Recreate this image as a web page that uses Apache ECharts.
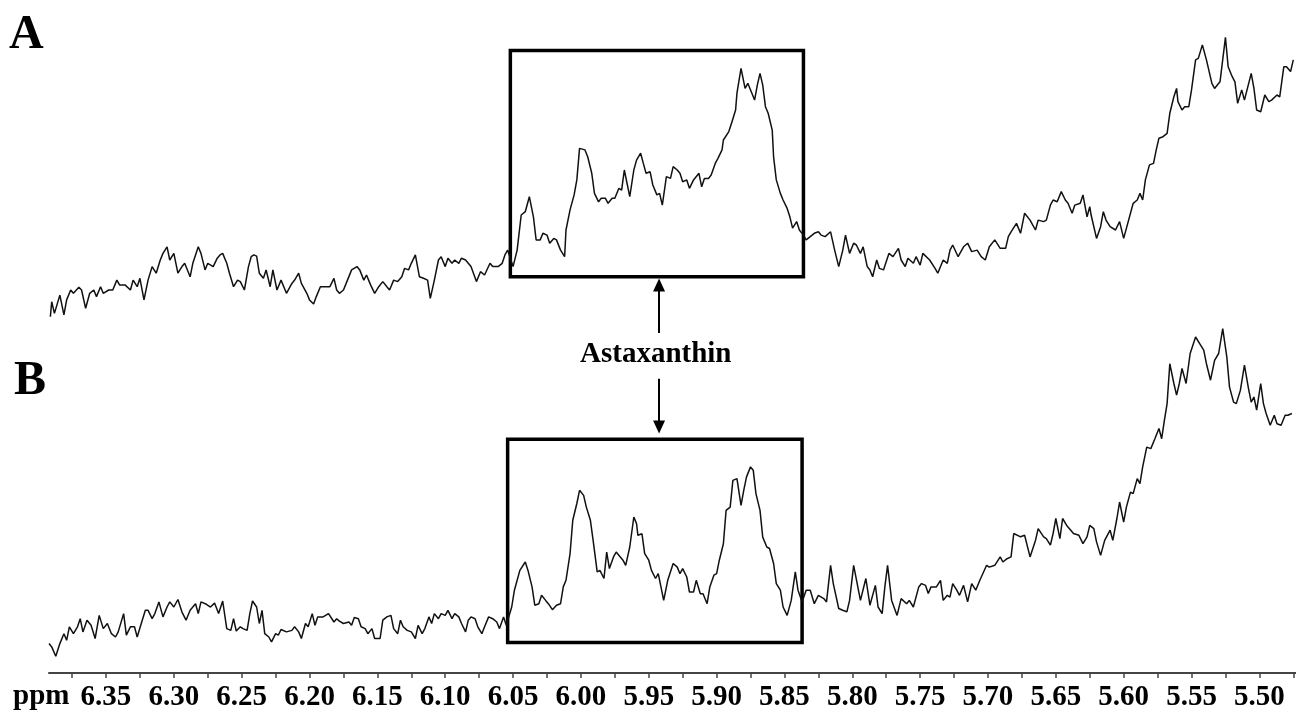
<!DOCTYPE html>
<html>
<head>
<meta charset="utf-8">
<script src="https://cdn.jsdelivr.net/npm/echarts@6/dist/echarts.min.js"></script>
<style>
html,body{margin:0;padding:0;background:#fff;}
#chart{width:1296px;height:712px;}
</style>
</head>
<body>
<div id="chart"></div>
<script>
// ---- Data (chemical shift in ppm, relative intensity) ----
const ppmA = [6.391,6.390,6.388,6.384,6.381,6.379,6.376,6.374,6.370,6.368,6.365,6.362,6.359,6.357,6.354,6.352,6.348,6.345,6.342,6.340,6.336,6.332,6.330,6.327,6.325,6.322,6.319,6.316,6.313,6.310,6.308,6.305,6.303,6.300,6.297,6.294,6.292,6.288,6.286,6.282,6.280,6.277,6.275,6.271,6.268,6.266,6.264,6.261,6.259,6.256,6.253,6.251,6.248,6.245,6.243,6.241,6.239,6.237,6.234,6.232,6.229,6.227,6.224,6.221,6.217,6.213,6.211,6.208,6.206,6.202,6.200,6.197,6.195,6.192,6.189,6.185,6.182,6.180,6.178,6.175,6.173,6.169,6.165,6.163,6.160,6.158,6.155,6.152,6.149,6.146,6.143,6.141,6.138,6.135,6.132,6.130,6.127,6.125,6.122,6.119,6.116,6.113,6.111,6.108,6.105,6.103,6.100,6.098,6.095,6.093,6.090,6.088,6.085,6.083,6.081,6.077,6.074,6.071,6.067,6.065,6.061,6.058,6.056,6.054,
6.050,6.047,6.044,6.041,6.038,6.035,6.033,6.030,6.028,6.025,6.023,6.020,6.018,6.015,6.012,6.011,6.008,6.005,6.003,6.001,5.997,5.995,5.992,5.990,5.987,5.985,5.982,5.980,5.977,5.975,5.972,5.970,5.968,5.964,5.961,5.959,5.956,5.954,5.952,5.949,5.947,5.944,5.942,5.940,5.937,5.934,5.932,5.929,5.927,5.925,5.922,5.920,5.917,5.913,5.911,5.909,5.906,5.904,5.901,5.899,5.896,5.895,5.891,5.889,5.886,5.885,5.882,5.879,5.877,5.874,5.872,5.870,5.868,5.866,5.864,5.862,5.859,5.858,5.856,5.853,5.851,5.848,5.846,5.844,5.841,5.839,5.836,5.834,5.831,5.828,5.825,
5.823,5.820,5.816,5.813,5.810,5.807,5.805,5.802,5.799,5.797,5.794,5.792,5.789,5.787,5.785,5.782,5.780,5.777,5.773,5.770,5.766,5.764,5.761,5.759,5.755,5.753,5.750,5.748,5.743,5.739,5.737,5.733,5.730,5.728,5.726,5.722,5.718,5.715,5.712,5.708,5.705,5.702,5.699,5.695,5.691,5.687,5.685,5.683,5.679,5.676,5.673,5.669,5.665,5.663,5.659,5.657,5.654,5.652,5.649,5.646,5.643,5.641,5.638,5.636,5.632,5.630,5.627,5.625,5.624,5.620,5.617,5.615,5.613,5.610,5.606,5.603,5.600,5.597,5.593,5.590,5.588,5.586,5.584,5.581,5.578,5.576,5.574,5.571,5.568,5.566,5.563,5.561,5.560,5.557,5.555,5.552,5.550,5.547,5.545,5.542,5.539,5.538,5.535,5.533,5.531,5.529,5.525,5.523,5.520,5.518,5.516,5.513,5.511,5.506,5.504,5.502,5.499,5.496,5.493,5.491,5.487,5.485,5.482,5.480,5.477,5.475];
const intA = [6.1,11.1,7.2,13.3,6.7,11.7,15.0,13.9,15.9,15.0,8.9,13.9,15.0,12.8,16.1,13.9,15.0,15.0,18.3,16.7,16.7,15.0,18.3,16.1,18.9,11.7,18.3,22.8,20.6,25.0,27.2,29.4,25.0,27.2,20.6,22.8,23.9,19.4,23.9,29.4,27.2,21.7,23.9,22.8,25.6,26.7,27.2,23.9,20.6,16.1,18.3,17.8,15.0,22.8,26.1,26.7,26.3,20.6,18.9,21.7,16.1,21.7,15.0,18.3,13.9,17.2,18.3,20.6,17.2,13.9,11.7,10.3,12.8,16.1,16.1,16.1,18.9,15.0,13.9,15.0,17.2,21.7,22.8,21.7,18.3,20.0,16.7,13.9,16.1,17.8,16.1,15.0,18.3,17.8,19.4,22.2,21.7,23.9,26.7,19.4,18.9,18.3,12.2,18.3,25.0,26.1,22.8,25.6,23.9,25.0,23.9,25.6,25.0,23.9,22.8,17.8,21.1,20.0,23.9,22.8,22.8,23.9,26.7,28.3,
22.8,28.3,40.0,41.1,46.1,39.4,31.7,31.7,33.9,33.3,30.6,32.2,31.7,28.3,26.1,35.0,41.7,46.7,51.7,62.2,61.7,59.4,53.9,47.2,44.4,45.6,45.6,43.9,45.6,45.6,48.9,48.3,55.0,46.1,55.0,58.3,60.6,57.2,53.9,54.4,50.0,46.7,47.2,43.3,52.8,52.2,56.1,55.0,53.9,51.1,51.7,48.9,51.7,53.9,49.4,52.2,52.2,53.3,57.2,58.9,61.7,65.0,67.8,70.6,75.0,80.6,88.9,82.2,83.9,80.6,78.3,83.3,87.2,83.3,76.1,73.9,68.3,59.4,51.7,47.2,45.0,42.2,39.4,35.6,37.8,35.0,33.3,31.7,32.8,33.9,34.4,
33.3,32.8,34.4,28.3,22.8,28.3,33.3,27.2,30.6,30.0,27.2,29.4,22.8,21.7,19.4,25.0,22.2,21.7,27.2,26.1,28.9,25.0,22.8,25.6,23.9,26.1,23.3,27.2,25.0,22.2,20.6,25.0,23.9,28.3,30.0,26.1,29.4,30.6,27.8,28.3,26.1,25.0,29.4,31.7,28.9,28.9,32.8,34.4,37.2,33.9,40.6,38.3,35.0,38.3,37.8,38.3,43.3,45.0,44.4,47.8,45.0,43.9,40.6,43.3,43.9,46.7,39.4,42.8,40.0,32.2,36.1,41.1,38.3,36.1,35.0,37.8,32.2,37.2,43.9,45.0,47.2,45.0,51.7,56.7,57.2,61.7,65.6,66.1,67.2,73.9,79.4,82.2,77.8,75.0,76.1,76.1,81.7,91.7,92.2,96.7,91.7,91.1,83.9,82.2,83.3,84.4,99.2,89.4,86.1,84.4,77.2,81.7,78.3,87.2,82.2,75.0,74.4,80.0,77.8,78.3,80.0,79.4,89.4,89.4,87.8,91.7];

const ppmB = [6.392,6.390,6.387,6.384,6.381,6.379,6.377,6.374,6.371,6.369,6.367,6.364,6.361,6.358,6.355,6.352,6.349,6.346,6.343,6.341,6.337,6.335,6.332,6.329,6.327,6.324,6.321,6.319,6.316,6.314,6.311,6.308,6.305,6.303,6.300,6.297,6.294,6.291,6.288,6.284,6.282,6.280,6.276,6.273,6.270,6.267,6.264,6.261,6.258,6.256,6.254,6.251,6.249,6.246,6.244,6.242,6.239,6.237,6.235,6.233,6.230,6.228,6.225,6.223,6.221,6.217,6.213,6.211,6.208,6.206,6.203,6.201,6.198,6.196,6.194,6.190,6.186,6.182,6.180,6.178,6.175,6.171,6.169,6.167,6.164,6.162,6.159,6.157,6.154,6.152,6.148,6.146,6.143,6.140,6.138,6.135,6.133,6.131,6.128,6.125,6.122,6.120,6.117,6.115,6.112,6.110,6.108,6.105,6.103,6.100,6.098,6.095,6.093,6.090,6.088,6.085,6.083,6.081,6.078,6.076,6.073,6.071,6.068,6.065,6.062,6.060,6.057,6.055,
6.051,6.049,6.045,6.041,6.039,6.036,6.034,6.031,6.029,6.026,6.024,6.021,6.018,6.015,6.013,6.011,6.008,6.006,6.003,6.001,5.998,5.996,5.993,5.991,5.988,5.986,5.983,5.981,5.979,5.976,5.974,5.971,5.969,5.967,5.964,5.961,5.959,5.958,5.955,5.953,5.950,5.948,5.945,5.943,5.941,5.939,5.936,5.932,5.929,5.927,5.925,5.922,5.920,5.917,5.915,5.912,5.910,5.907,5.905,5.902,5.900,5.898,5.895,5.893,5.890,5.888,5.885,5.882,5.880,5.878,5.875,5.873,5.871,5.868,5.866,5.863,5.861,5.858,5.856,5.853,5.851,5.848,5.845,5.842,5.840,5.837,5.834,5.831,5.828,5.825,
5.821,5.819,5.816,5.814,5.810,5.807,5.804,5.802,5.799,5.794,5.790,5.787,5.783,5.781,5.778,5.776,5.774,5.771,5.767,5.764,5.760,5.758,5.755,5.751,5.749,5.746,5.744,5.742,5.738,5.735,5.733,5.730,5.728,5.726,5.723,5.721,5.718,5.715,5.712,5.709,5.706,5.701,5.699,5.695,5.691,5.689,5.686,5.683,5.681,5.676,5.673,5.669,5.665,5.663,5.659,5.657,5.654,5.652,5.650,5.647,5.645,5.642,5.639,5.637,5.633,5.630,5.627,5.625,5.622,5.620,5.617,5.614,5.610,5.608,5.605,5.603,5.600,5.598,5.595,5.593,5.590,5.588,5.586,5.583,5.580,5.577,5.574,5.572,5.570,5.568,5.566,5.563,5.561,5.559,5.557,5.554,5.551,5.547,5.544,5.541,5.539,5.536,5.533,5.530,5.527,5.524,5.522,5.519,5.517,5.514,5.511,5.508,5.506,5.504,5.502,5.499,5.497,5.495,5.492,5.489,5.487,5.484,5.481,5.479,5.476];
const intB = [9.8,8.7,5.6,9.8,13.1,10.9,15.4,13.1,15.4,18.1,13.7,17.6,15.9,11.5,19.2,14.8,16.5,13.1,12.0,13.7,19.8,12.6,15.4,15.4,12.0,16.5,20.9,20.9,18.1,19.8,23.7,18.7,22.0,23.7,22.0,24.5,20.3,17.6,20.9,23.1,19.8,23.7,22.9,22.0,23.3,19.8,24.0,14.8,14.2,18.1,14.0,15.4,14.8,14.2,19.8,24.0,22.0,16.5,20.9,13.1,12.0,10.4,13.1,12.6,14.5,13.7,14.2,15.4,13.7,11.5,16.5,15.4,19.8,15.9,18.7,18.7,19.8,17.0,18.1,17.3,16.5,17.0,15.9,18.5,18.1,15.4,14.8,13.1,14.8,11.5,11.5,17.6,18.7,19.2,14.8,13.1,17.6,15.4,14.2,13.7,11.5,15.9,13.1,14.8,18.7,16.5,19.8,18.1,19.8,19.2,20.9,18.1,19.8,18.7,16.5,13.7,17.6,18.7,18.1,15.4,13.1,15.4,18.7,18.1,17.0,14.8,18.7,15.9,
22.0,27.6,34.2,37.0,34.2,28.7,22.6,23.1,25.9,24.2,23.1,21.1,22.6,23.1,28.7,30.9,39.8,50.9,56.5,60.9,59.2,55.3,50.9,44.2,33.7,34.2,31.5,40.3,34.8,38.7,40.3,38.7,37.6,35.9,42.0,52.0,49.8,45.9,46.4,39.8,37.6,34.2,31.5,33.1,28.7,24.2,30.9,36.5,35.3,33.1,34.8,32.0,27.0,27.0,30.9,26.4,26.4,23.1,28.7,32.6,33.1,37.6,43.1,54.2,55.3,64.2,64.8,55.9,60.9,65.3,68.7,67.6,59.8,54.2,45.3,42.0,41.5,36.5,29.8,27.6,22.0,19.2,24.2,33.7,27.6,23.7,27.6,27.6,23.1,25.9,
24.8,23.7,35.9,29.8,21.5,20.9,20.4,24.2,35.9,24.2,31.5,22.6,29.2,22.0,19.8,28.7,35.9,24.2,19.2,24.8,23.1,24.2,22.0,28.7,29.8,29.2,26.5,28.7,28.7,30.9,24.2,25.9,25.3,29.8,27.6,25.9,29.2,23.7,29.8,27.6,30.9,35.9,35.3,35.9,38.7,37.0,38.1,38.7,46.5,45.4,45.9,38.7,44.2,48.1,45.4,44.8,42.6,46.5,51.5,44.8,51.5,49.2,47.6,46.5,45.9,43.1,45.4,49.2,48.1,43.7,39.2,44.2,47.6,44.2,51.5,57.0,50.3,55.3,60.3,59.8,64.8,63.1,68.7,75.3,74.8,78.1,81.5,78.1,84.2,89.8,103.1,96.5,92.6,96.5,101.5,96.5,106.5,112.0,109.8,107.6,103.1,97.6,104.2,106.5,114.8,105.4,95.3,90.3,89.8,94.2,102.6,94.8,90.3,92.0,87.6,96.5,89.8,86.5,82.6,85.9,83.1,82.6,85.9,85.9,86.5];

// Axis ticks and labels
const tickValues = [6.375,6.35,6.325,6.30,6.275,6.25,6.225,6.20,6.175,6.15,6.125,6.10,6.075,6.05,6.025,6.00,5.975,5.95,5.925,5.90,5.875,5.85,5.825,5.80,5.775,5.75,5.725,5.70,5.675,5.65,5.625,5.60,5.575,5.55,5.525,5.50,5.475];
const tickLabels = ['6.35','6.30','6.25','6.20','6.15','6.10','6.05','6.00','5.95','5.90','5.85','5.80','5.75','5.70','5.65','5.60','5.55','5.50'];

// Highlighted regions (ppm range, intensity range) and annotation
const boxA = {ppm: [6.052, 5.836], int: [94.8, 19.4]};
const boxB = {ppm: [6.054, 5.837], int: [77.9, 10.2]};
const arrowPpm = 5.9424;
const arrowUp = [0.7, 16.7];     // in trace-A intensity units
const arrowDown = [98.1, 82.0];  // in trace-B intensity units

const X_MIN = 5.473, X_MAX = 6.392;
const SERIF = '"Liberation Serif","Times New Roman",Times,serif';

const dataA = ppmA.map((p, i) => [p, intA[i]]);
const dataB = ppmB.map((p, i) => [p, intB[i]]);

const chart = echarts.init(document.getElementById('chart'), null, {renderer: 'canvas'});

const lineStyle = {color: '#111', width: 1.5};

chart.setOption({
  backgroundColor: '#ffffff',
  animation: false,
  grid: [
    {left: 49, right: 0, top: 20, height: 315},
    {left: 49, right: 0, top: 313, height: 360}
  ],
  xAxis: [
    {gridIndex: 0, type: 'value', inverse: true, min: X_MIN, max: X_MAX, show: false},
    {
      gridIndex: 1, type: 'value', inverse: true, min: X_MIN, max: X_MAX,
      axisLine: {show: true, onZero: false, lineStyle: {color: '#444', width: 2}},
      axisTick: {show: true, customValues: tickValues, length: 5, inside: false, lineStyle: {color: '#444', width: 1.5}},
      axisLabel: {
        show: true,
        customValues: tickLabels.map(Number),
        margin: 10,
        color: '#000',
        fontFamily: SERIF,
        fontWeight: 'bold',
        fontSize: 29,
        formatter: function (v) {
          const t = tickLabels.find(s => Math.abs(Number(s) - v) < 1e-6);
          return t || '';
        }
      },
      splitLine: {show: false}
    }
  ],
  yAxis: [
    {gridIndex: 0, type: 'value', min: 0, max: 105, show: false},
    {gridIndex: 1, type: 'value', min: 0, max: 120, show: false}
  ],
  series: [
    {
      name: 'A', type: 'line', xAxisIndex: 0, yAxisIndex: 0,
      data: dataA, showSymbol: false, symbol: 'none', lineStyle: lineStyle, clip: false,
      markArea: {
        silent: true,
        itemStyle: {color: 'rgba(0,0,0,0)', borderColor: '#000', borderWidth: 3.5},
        label: {show: false},
        data: [[{coord: [boxA.ppm[0], boxA.int[0]]}, {coord: [boxA.ppm[1], boxA.int[1]]}]]
      },
      markLine: {
        silent: true,
        symbol: ['none', 'triangle'],
        symbolSize: [12, 13],
        label: {show: false},
        lineStyle: {color: '#000', width: 2, type: 'solid'},
        data: [[{coord: [arrowPpm, arrowUp[0]]}, {coord: [arrowPpm, arrowUp[1]]}]]
      }
    },
    {
      name: 'B', type: 'line', xAxisIndex: 1, yAxisIndex: 1,
      data: dataB, showSymbol: false, symbol: 'none', lineStyle: lineStyle, clip: false,
      markArea: {
        silent: true,
        itemStyle: {color: 'rgba(0,0,0,0)', borderColor: '#000', borderWidth: 3.5},
        label: {show: false},
        data: [[{coord: [boxB.ppm[0], boxB.int[0]]}, {coord: [boxB.ppm[1], boxB.int[1]]}]]
      },
      markLine: {
        silent: true,
        symbol: ['none', 'triangle'],
        symbolSize: [12, 13],
        label: {show: false},
        lineStyle: {color: '#000', width: 2, type: 'solid'},
        data: [[{coord: [arrowPpm, arrowDown[0]]}, {coord: [arrowPpm, arrowDown[1]]}]]
      }
    }
  ],
  graphic: [
    {type: 'text', left: 9, top: 12, style: {text: 'A', font: 'bold 48px ' + SERIF, fill: '#000'}},
    {type: 'text', left: 14, top: 358, style: {text: 'B', font: 'bold 48px ' + SERIF, fill: '#000'}},
    {type: 'text', left: 580, top: 340, style: {text: 'Astaxanthin', font: 'bold 29px ' + SERIF, fill: '#000'}},
    {type: 'text', left: 13, top: 682, style: {text: 'ppm', font: 'bold 29px ' + SERIF, fill: '#000'}}
  ]
});
</script>
</body>
</html>
